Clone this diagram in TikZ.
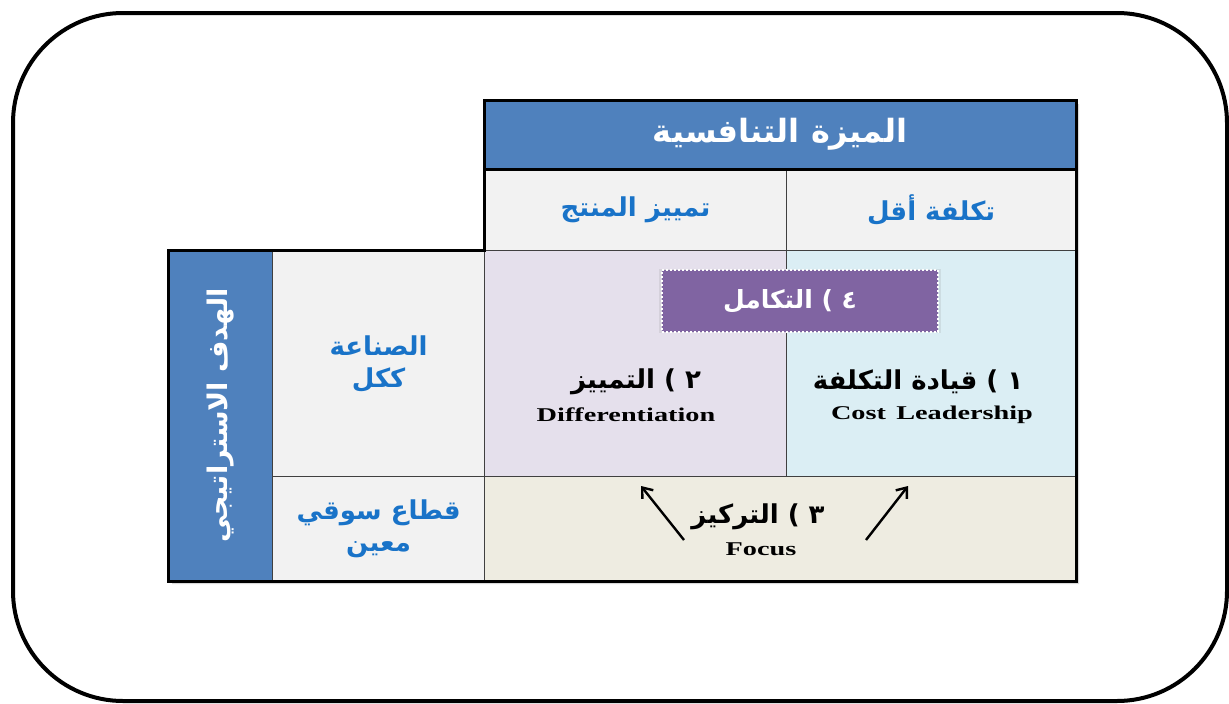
\documentclass[tikz,border=0pt]{standalone}
\usepackage{fontspec}
\usepackage{xcolor}
\usepackage{tikz}
\usetikzlibrary{positioning, arrows.meta, calc, shadows}
\TeXXeTstate=1
\newfontfamily\arabicfont[Script=Arabic]{DejaVu Sans}
\newfontfamily\latinfont[FakeStretch=1.45]{Liberation Serif}
\newcommand{\artext}[1]{{\arabicfont\bfseries\beginR #1\endR}}
\definecolor{headblue}{RGB}{79, 129, 189}
\definecolor{cellgray}{RGB}{242, 242, 242}
\definecolor{difflilac}{RGB}{229, 224, 236}
\definecolor{costblue}{RGB}{219, 238, 244}
\definecolor{focusbeige}{RGB}{238, 236, 225}
\definecolor{mixpurple}{RGB}{128, 100, 162}
\definecolor{labelblue}{RGB}{25, 115, 200}

\begin{document}
\begin{tikzpicture}[x=1pt, y=-1pt,
        cell/.style={draw=black!75, line width=1.2pt, inner sep=0pt, anchor=north west, align=center},
        rowlabel/.style={font=\fontsize{26}{32}\selectfont, text=labelblue},
        strategy/.style={font=\fontsize{26}{30}\selectfont},
        english/.style={font=\latinfont\bfseries\fontsize{19.5}{22}\selectfont},
        arrow/.style={-{Straight Barb[length=9pt, width=14pt]}, line width=2.4pt}
    ]
        \useasboundingbox (0,0) rectangle (1229,704);
        % Frame
        \draw[line width=4pt, rounded corners=110pt] (13,13) rectangle (1227,701);

        % Soft shadow under the table
        \fill[black!15] (488,104) -- (1079,104) -- (1079,584) -- (172,584) -- (172,254) -- (488,254) -- cycle;

        % Competitive advantage header
        \node[cell, fill=headblue, text=white, minimum width=591, minimum height=68, font=\fontsize{32}{36}\selectfont] (advantage) at (484,100) {\artext{الميزة التنافسية}};
        \node[cell, fill=cellgray, rowlabel, minimum width=302, minimum height=82] (product) at (484,168) {\artext{تمييز المنتج}};
        \node[cell, fill=cellgray, rowlabel, minimum width=289, minimum height=82] (lowcost) at (786,168) {\artext{تكلفة أقل}};

        % Strategic target column
        \node[cell, fill=headblue, minimum width=104, minimum height=330] (target) at (168,250) {};
        \node[text=white, rotate=90, font=\fontsize{27}{30}\selectfont] (targettext) at (target.center) {\artext{الهدف الاستراتيجي}};
        \node[cell, fill=cellgray, rowlabel, minimum width=212, minimum height=226] (industry) at (272,250) {\artext{الصناعة}\\\artext{ككل}};
        \node[cell, fill=cellgray, rowlabel, minimum width=212, minimum height=104] (segment) at (272,476) {\artext{قطاع سوقي}\\\artext{معين}};

        % Strategies
        \node[cell, fill=difflilac, minimum width=302, minimum height=226] (diff) at (484,250) {};
        \node[cell, fill=costblue, minimum width=289, minimum height=226] (cost) at (786,250) {};
        \node[cell, fill=focusbeige, minimum width=591, minimum height=104] (focus) at (484,476) {};

        \node[strategy] (diffar) at (636,382) {\artext{٢ ) التمييز}};
        \node[english] (diffen) at (626,415) {Differentiation};
        \node[strategy] (costar) at (918,382) {\artext{١ ) قيادة التكلفة}};
        \node[english] (costen) at (932,415) {Cost\, Leadership};
        \node[strategy] (focusar) at (758,517) {\artext{٣ ) التركيز}};
        \node[english] (focusen) at (761,549) {Focus};

        % Outline
        \draw[line width=3pt] (advantage.north west) -- (advantage.north east) -- (focus.south east) -- (target.south west) -- (target.north west) -- (diff.north west) -- cycle;
        \draw[line width=3pt] (advantage.south west) -- (advantage.south east);

        % Integration
        \node[fill=mixpurple, draw=white, dotted, line width=2pt, minimum width=276, minimum height=62, drop shadow={opacity=0.15, shadow xshift=0pt, shadow yshift=0pt, shadow scale=1.025}] (integration) at (800,301) {};
        \node[text=white, font=\fontsize{25}{28}\selectfont] (integrationtext) at (790,301) {\artext{٤ ) التكامل}};

        % Focus arrows
        \coordinate (leftfoot) at (684,540);
        \coordinate (lefttip) at (641,486);
        \coordinate (rightfoot) at (866,540);
        \coordinate (righttip) at (908,486);
        \draw[arrow] (leftfoot) -- (lefttip);
        \draw[arrow] (rightfoot) -- (righttip);
    \end{tikzpicture}
\end{document}
